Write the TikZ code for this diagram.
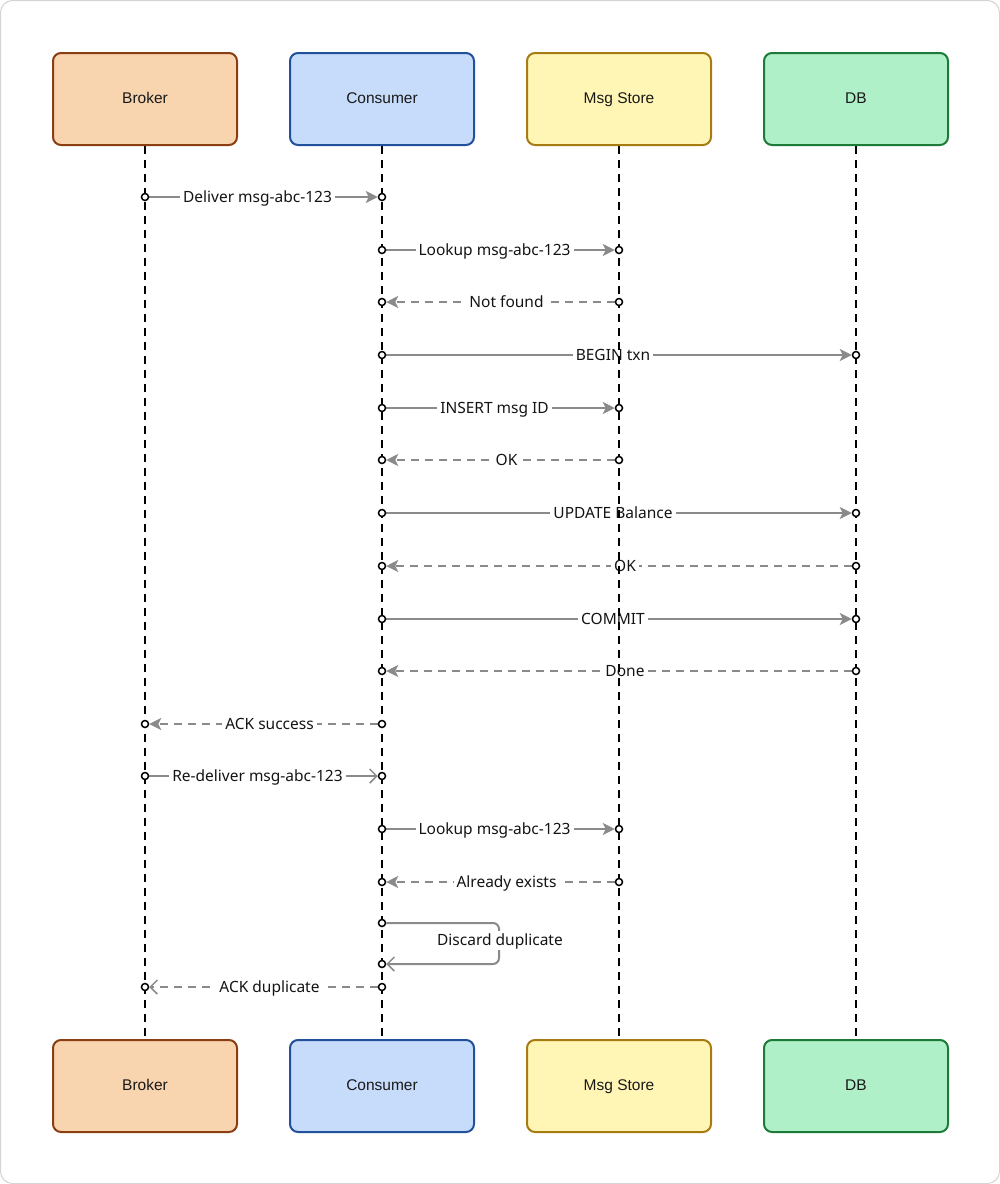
\documentclass[tikz,border=0pt]{standalone}
\usepackage{fontspec}
\setmainfont{Liberation Sans}
\newfontfamily\lblfont{Noto Sans}
\usetikzlibrary{arrows.meta}
\pgfdeclarelayer{bg}
\pgfdeclarelayer{mid}
\pgfsetlayers{bg,mid,main}
\definecolor{brokerfill}{HTML}{F8D4AF}
\definecolor{brokerdraw}{HTML}{8B3E12}
\definecolor{consfill}{HTML}{C7DCFA}
\definecolor{consdraw}{HTML}{23509B}
\definecolor{storefill}{HTML}{FFF6B5}
\definecolor{storedraw}{HTML}{A67C12}
\definecolor{dbfill}{HTML}{AFF0C9}
\definecolor{dbdraw}{HTML}{1E7A38}
\definecolor{msggray}{HTML}{8A8A8A}
\definecolor{framegray}{HTML}{D4D4D4}
\begin{document}
\begin{tikzpicture}[x=1pt,y=-1pt,
  actor/.style={rectangle, rounded corners=8pt, line width=2pt, minimum width=184pt, minimum height=92pt,
    font=\fontsize{15.5}{18}\selectfont, text=black!90, text height=11pt, text depth=3pt},
  life/.style={line width=2pt, black, dash pattern=on 8pt off 6pt},
  dot/.style={circle, draw=black, fill=white, line width=1.5pt, inner sep=0pt, minimum size=7pt},
  msg/.style={draw=msggray, line width=2pt, -{Stealth[length=12pt,width=12pt,inset=3pt,fill=msggray]}},
  ret/.style={msg, dash pattern=on 8pt off 6pt},
  openmsg/.style={draw=msggray, line width=2pt, -{Straight Barb[length=7pt,width=14pt,line width=1.5pt]}},
  openret/.style={openmsg, dash pattern=on 8pt off 6pt},
  lbl/.style={fill=white, inner sep=3pt, font=\lblfont\fontsize{15.5}{18}\selectfont, text=black!92,
    text height=12pt, text depth=1pt},
  lblR/.style={lbl, xshift=-6pt},
  lblL/.style={lbl, xshift=6pt}]
\useasboundingbox (0,0) rectangle (1000,1184);
\draw[framegray, line width=1pt, rounded corners=12pt] (0.5,0.5) rectangle (999.5,1183.5);

% actors
\node[actor, fill=brokerfill, draw=brokerdraw] (bt) at (145,99) {Broker};
\node[actor, fill=consfill, draw=consdraw] (ct) at (382,99) {Consumer};
\node[actor, fill=storefill, draw=storedraw] (st) at (619,99) {Msg Store};
\node[actor, fill=dbfill, draw=dbdraw] (dt) at (856,99) {DB};
\node[actor, fill=brokerfill, draw=brokerdraw] (bb) at (145,1086) {Broker};
\node[actor, fill=consfill, draw=consdraw] (cb) at (382,1086) {Consumer};
\node[actor, fill=storefill, draw=storedraw] (sb) at (619,1086) {Msg Store};
\node[actor, fill=dbfill, draw=dbdraw] (db) at (856,1086) {DB};

\begin{pgfonlayer}{mid}
\draw[life] (bt.south) -- (bb.north);
\draw[life] (ct.south) -- (cb.north);
\draw[life] (st.south) -- (sb.north);
\draw[life] (dt.south) -- (db.north);
\end{pgfonlayer}

% endpoint dots
\node[dot] (m1a) at (145,197) {}; \node[dot] (m1b) at (382,197) {};
\node[dot] (m2a) at (382,250) {}; \node[dot] (m2b) at (619,250) {};
\node[dot] (m3a) at (619,302) {}; \node[dot] (m3b) at (382,302) {};
\node[dot] (m4a) at (382,355) {}; \node[dot] (m4b) at (856,355) {};
\node[dot] (m5a) at (382,408) {}; \node[dot] (m5b) at (619,408) {};
\node[dot] (m6a) at (619,460) {}; \node[dot] (m6b) at (382,460) {};
\node[dot] (m7a) at (382,513) {}; \node[dot] (m7b) at (856,513) {};
\node[dot] (m8a) at (856,566) {}; \node[dot] (m8b) at (382,566) {};
\node[dot] (m9a) at (382,619) {}; \node[dot] (m9b) at (856,619) {};
\node[dot] (m10a) at (856,671) {}; \node[dot] (m10b) at (382,671) {};
\node[dot] (m11a) at (382,724) {}; \node[dot] (m11b) at (145,724) {};
\node[dot] (m12a) at (145,776) {}; \node[dot] (m12b) at (382,776) {};
\node[dot] (m13a) at (382,829) {}; \node[dot] (m13b) at (619,829) {};
\node[dot] (m14a) at (619,882) {}; \node[dot] (m14b) at (382,882) {};
\node[dot] (m15a) at (382,923) {}; \node[dot] (m15b) at (382,964) {};
\node[dot] (m16a) at (382,987) {}; \node[dot] (m16b) at (145,987) {};
\coordinate (lc1) at (499,923);
\coordinate (lc2) at (499,964);

\begin{pgfonlayer}{bg}
\draw[msg] (m1a) -- node[lblR] {Deliver msg-abc-123} (m1b);
\draw[msg] (m2a) -- node[lblR] {Lookup msg-abc-123} (m2b);
\draw[ret] (m3a) -- node[lblL] {Not found} (m3b);
\draw[msg] (m4a) -- node[lblR] {BEGIN txn} (m4b);
\draw[msg] (m5a) -- node[lblR] {INSERT msg ID} (m5b);
\draw[ret] (m6a) -- node[lblL] {OK} (m6b);
\draw[msg] (m7a) -- node[lblR] {UPDATE Balance} (m7b);
\draw[ret] (m8a) -- node[lblL] {OK} (m8b);
\draw[msg] (m9a) -- node[lblR] {COMMIT} (m9b);
\draw[ret] (m10a) -- node[lblL] {Done} (m10b);
\draw[ret] (m11a) -- node[lblL] {ACK success} (m11b);
\draw[openmsg] (m12a) -- node[lblR] {Re-deliver msg-abc-123} (m12b);
\draw[msg] (m13a) -- node[lblR] {Lookup msg-abc-123} (m13b);
\draw[ret] (m14a) -- node[lblL] {Already exists} (m14b);
\draw[openmsg, rounded corners=6pt] (m15a) -- (lc1) -- (lc2) -- (m15b);
\node[lbl] (m15l) at (500,940) {Discard duplicate};
\draw[openret] (m16a) -- node[lblL] {ACK duplicate} (m16b);
\end{pgfonlayer}
\end{tikzpicture}
\end{document}
